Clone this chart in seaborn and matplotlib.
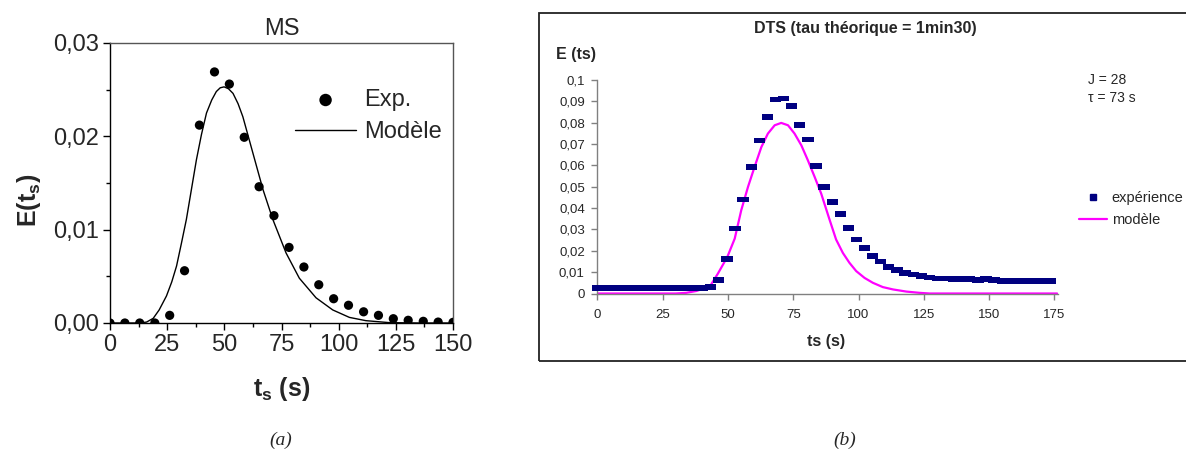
import matplotlib
matplotlib.use("Agg")
import matplotlib.pyplot as plt
import seaborn as sns
from matplotlib.lines import Line2D
from matplotlib.patches import Rectangle
from matplotlib.path import Path
from matplotlib.ticker import MultipleLocator, FuncFormatter

# (a) MS : experimental points and model curve
ms_t = [0, 6.5, 13, 19.6, 26.1, 32.6, 39.1, 45.7, 52.2, 58.7, 65.2, 71.7,
        78.3, 84.8, 91.3, 97.8, 104.3, 110.9, 117.4, 123.9, 130.4, 137, 143.5, 150]
ms_exp = [0, 0, 0, 0, 0.00082, 0.0056, 0.0212, 0.0269, 0.0256, 0.0199, 0.0146, 0.0115,
          0.0081, 0.0060, 0.0041, 0.0026, 0.0019, 0.0012, 0.00082, 0.00046, 0.00029,
          0.00018, 0.0001, 0.00007]
ms_model_t = [0, 13.1, 16, 18.9, 21.5, 24.7, 27, 29.1, 31.2, 33.4, 35.6, 37.8, 40, 42.2,
              44.5, 46.5, 48.2, 49.9, 51.8, 53.8, 56, 58.1, 62.5, 66.9, 71.2, 77.0, 82.8,
              90.1, 97.4, 104.7, 111.9, 122.1, 135, 150]
ms_model = [0, 0, 0.0001, 0.0005, 0.0014, 0.0029, 0.0044, 0.0061, 0.0085, 0.0111, 0.0143,
            0.0175, 0.0202, 0.0225, 0.0239, 0.0248, 0.0252, 0.0253, 0.0251, 0.0246, 0.0235,
            0.0221, 0.0182, 0.0143, 0.0111, 0.0075, 0.0048, 0.0027, 0.0014, 0.0006,
            0.00025, 0.00004, 0, 0]

# (b) DTS : experience and modele
dts_t = [0, 3.1, 6.2, 9.3, 12.4, 15.5, 18.6, 21.7, 24.8, 27.9, 31.0, 34.1, 37.2, 40.3,
         43.4, 46.5, 49.6, 52.7, 55.8, 58.9, 62.0, 65.1, 68.2, 71.3, 74.4, 77.5, 80.6,
         83.7, 86.8, 89.9, 93.0, 96.1, 99.2, 102.3, 105.4, 108.5, 111.6, 114.7, 117.8,
         120.9, 124.0, 127.1, 130.2, 133.3, 136.4, 139.5, 142.6, 145.7, 148.8, 151.9,
         155.0, 158.1, 161.2, 164.3, 167.4, 170.5, 173.6]
dts_exp = [0.0026] * 14 + [
    0.0030, 0.0064, 0.0162, 0.0304, 0.0441, 0.0593, 0.0716, 0.0828, 0.0908, 0.0913,
    0.0878, 0.0789, 0.0721, 0.0598, 0.0499, 0.0429, 0.0371, 0.0306, 0.0253, 0.0214,
    0.0175, 0.0150, 0.0125, 0.0109, 0.0097, 0.0089, 0.0081, 0.0075, 0.0071, 0.0070,
    0.0068, 0.0068, 0.0067, 0.0064, 0.0068, 0.0064] + [0.0058] * 7
dts_model_t = [0, 30, 34, 38, 41, 43.4, 46.2, 49.8, 52.6, 55.1, 57.7, 60.2, 62.8, 65.3,
               67.9, 70.4, 73.0, 75.5, 78.1, 80.6, 83.2, 85.7, 88.9, 91.4, 94.0, 96.5,
               99.1, 102.3, 105.5, 109.3, 113.2, 118.3, 123.4, 127.2, 176]
dts_model = [0, 0, 0.0003, 0.0012, 0.0025, 0.0039, 0.0094, 0.0172, 0.0257, 0.039, 0.050,
             0.0593, 0.0686, 0.0749, 0.0788, 0.0799, 0.0788, 0.0749, 0.0694, 0.0624,
             0.0546, 0.0468, 0.0346, 0.0253, 0.019, 0.0144, 0.0105, 0.0073, 0.005, 0.003,
             0.0019, 0.0009, 0.0003, 0, 0]

sns.set_style("ticks")
plt.rcParams["font.family"] = ["Liberation Sans", "DejaVu Sans"]
plt.rcParams["mathtext.fontset"] = "custom"
plt.rcParams["mathtext.rm"] = "Liberation Sans"
plt.rcParams["mathtext.bf"] = "Liberation Sans:bold"
plt.rcParams["mathtext.it"] = "Liberation Sans:italic"

W, H = 1186, 466
fig = plt.figure(figsize=(W / 100, H / 100), dpi=100)


def px_box(l, t, r, b):
    return [l / W, 1 - b / H, (r - l) / W, (b - t) / H]


def comma(fmt):
    return FuncFormatter(lambda v, p: format(v, fmt).replace(".", ","))


# ---- panel (a)
ax1 = fig.add_axes(px_box(110, 43, 453, 323))
sns.scatterplot(x=ms_t, y=ms_exp, ax=ax1, color="black", s=44, edgecolor="none",
                label="Exp.", zorder=3)
sns.lineplot(x=ms_model_t, y=ms_model, ax=ax1, color="black", lw=1.0,
             label="Modèle", estimator=None)
ax1.set_xlim(0, 150)
ax1.set_ylim(0, 0.03)
ax1.xaxis.set_major_locator(MultipleLocator(25))
ax1.xaxis.set_minor_locator(MultipleLocator(12.5))
ax1.yaxis.set_major_locator(MultipleLocator(0.01))
ax1.yaxis.set_minor_locator(MultipleLocator(0.005))
ax1.yaxis.set_major_formatter(comma(".2f"))
ax1.tick_params(which="major", direction="out", length=5, width=1, labelsize=17,
                pad=3, color="black")
ax1.tick_params(which="minor", direction="out", length=3, width=1, color="black")
for side in ["left", "bottom"]:
    ax1.spines[side].set_color("black")
for side in ["top", "right"]:
    ax1.spines[side].set_color("#555555")
for sp in ax1.spines.values():
    sp.set_linewidth(1)
ax1.set_title("MS", fontsize=17, pad=6)
ax1.set_ylabel(r"$\mathbf{E(t_s)}$", fontsize=18)
ax1.yaxis.set_label_coords(-0.195, 0.436)
ax1.set_xlabel(r"$\mathbf{t_s}$ (s)", fontsize=18, fontweight="bold")
ax1.xaxis.set_label_coords(0.5, -0.186)
ax1.legend(loc="upper left", bbox_to_anchor=(0.539, 0.835), frameon=False, fontsize=17,
           handlelength=2.6, handletextpad=0.35, borderpad=0, borderaxespad=0,
           labelspacing=0.42, markerscale=1.35)

# ---- panel (b)
ax2 = fig.add_axes(px_box(597.3, 80, 1058.4, 293.5))
rect_marker = Path([(-1, -0.5), (1, -0.5), (1, 0.5), (-1, 0.5), (-1, -0.5)],
                   [Path.MOVETO, Path.LINETO, Path.LINETO, Path.LINETO, Path.CLOSEPOLY])
sns.lineplot(x=dts_model_t, y=dts_model, ax=ax2, color="#FF00FF", lw=1.6,
             estimator=None, legend=False)
sns.scatterplot(x=dts_t, y=dts_exp, ax=ax2, marker=rect_marker, s=66, color="#000080",
                edgecolor="none", legend=False, zorder=3, clip_on=False)
ax2.set_xlim(0, 176.5)
ax2.set_ylim(0, 0.1)
ax2.xaxis.set_major_locator(MultipleLocator(25))
ax2.yaxis.set_major_locator(MultipleLocator(0.01))
ax2.yaxis.set_major_formatter(FuncFormatter(
    lambda v, p: format(round(v, 2), ".2f").rstrip("0").rstrip(".").replace(".", ",")))
ax2.tick_params(direction="out", length=4, width=1, color="#808080", labelsize=9.5)
ax2.tick_params(axis="y", pad=5)
ax2.tick_params(axis="x", pad=7)
for side in ["top", "right"]:
    ax2.spines[side].set_visible(False)
for side in ["left", "bottom"]:
    ax2.spines[side].set_color("#808080")
    ax2.spines[side].set_linewidth(1)
ax2.set_xlabel("ts (s)", fontsize=11.5, fontweight="bold")
ax2.xaxis.set_label_coords(0.496, -0.19)

fig.text(865 / W, 1 - 28 / H, "DTS (tau théorique = 1min30)", fontsize=11.5,
         fontweight="bold", ha="center", va="center")
fig.text(556 / W, 1 - 55 / H, "E (ts)", fontsize=11.5, fontweight="bold",
         ha="left", va="center")
fig.text(1088 / W, 1 - 80 / H, "J = 28", fontsize=10, ha="left", va="center")
fig.text(1088 / W, 1 - 98 / H, "τ = 73 s", fontsize=10, ha="left", va="center")

handles = [Line2D([], [], marker="s", color="#000080", linestyle="none", markersize=3.8),
           Line2D([], [], color="#FF00FF", lw=1.6)]
fig.legend(handles, ["expérience", "modèle"], loc="upper left",
           bbox_to_anchor=(1079 / W, 1 - 191 / H), frameon=False, fontsize=10.5,
           handlelength=1.9, handletextpad=0.35, borderpad=0, borderaxespad=0,
           labelspacing=0.55)

fig.patches.append(Rectangle((539 / W, 1 - 361 / H), (1200 - 539) / W, (361 - 12.7) / H,
                             transform=fig.transFigure, fill=False, lw=1.3,
                             edgecolor="#222222", clip_on=False))

fig.text(281 / W, 1 - 440 / H, "(a)", family="Liberation Serif", style="italic",
         fontsize=14, ha="center", va="center")
fig.text(845 / W, 1 - 440 / H, "(b)", family="Liberation Serif", style="italic",
         fontsize=14, ha="center", va="center")

fig.savefig("out.png", dpi=100)
